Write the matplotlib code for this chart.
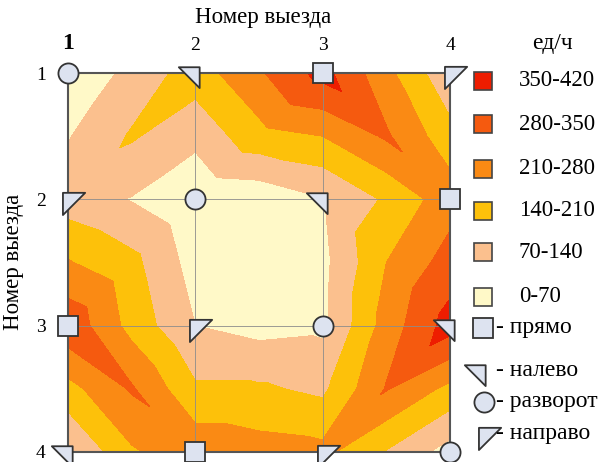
import numpy as np
import matplotlib
matplotlib.use("Agg")
import matplotlib.pyplot as plt
import matplotlib.tri as mtri
from matplotlib.path import Path
from matplotlib.patches import Rectangle
from matplotlib.lines import Line2D

plt.rcParams['font.family'] = ['Liberation Serif', 'DejaVu Serif']

# номера выездов и сетка интерполяции
exits = [1, 2, 3, 4]
grid_x = [1.0, 1.5, 2.0, 2.5, 3.0, 3.5, 4.0]
grid_y = [1.0, 1.5, 2.0, 2.5, 3.0, 3.5, 4.0]

# интенсивность, ед/ч (строки - grid_y, столбцы - grid_x)
flow = [
    [10, 90, 175, 270, 375, 230, 85],
    [65, 148, 90, 185, 210, 290, 165],
    [105, 66, 10, 20, 65, 150, 250],
    [215, 160, 40, 15, 50, 210, 310],
    [330, 185, 70, 45, 55, 240, 380],
    [185, 288, 150, 150, 125, 285, 190],
    [60, 200, 260, 240, 230, 135, 40],
]

levels = [0, 70, 140, 210, 280, 350, 420]
level_labels = ["0-70", "70-140", "140-210", "210-280", "280-350", "350-420"]
colors = ["#FFF9C8", "#FBC08E", "#FDC10A", "#FA8A14", "#F55A0F", "#EE1D00"]

# манёвры: строка - номер въезда (ось y), столбец - номер выезда (ось x)
manoeuvres = [
    ["разворот", "налево", "прямо", "направо"],
    ["направо", "разворот", "налево", "прямо"],
    ["прямо", "направо", "разворот", "налево"],
    ["налево", "прямо", "направо", "разворот"],
]
man_order = ["прямо", "налево", "разворот", "направо"]

W, H = 604, 462


def tri(v):
    return Path(v + [v[0]], closed=True)


mstyle = {
    "прямо": dict(marker="s", ms=15),
    "налево": dict(marker=tri([(0.2, 0.3), (-0.8, 0.3), (0.2, -0.7)]), ms=24),
    "разворот": dict(marker="o", ms=14.5),
    "направо": dict(marker=tri([(-0.25, 0.3), (0.75, 0.3), (-0.25, -0.7)]), ms=24),
}
mface = "#DDE3F0"
medge = "#333333"

# треугольная сетка: диагональ в каждой ячейке вдоль "гребня"
z = np.array(flow, dtype=float)
gx, gy = np.meshgrid(grid_x, grid_y)
n = len(grid_x)
triangles = []
for r in range(len(grid_y) - 1):
    for c in range(n - 1):
        a = r * n + c
        b = a + 1
        d = a + n
        e = d + 1
        if z[r, c] + z[r + 1, c + 1] >= z[r, c + 1] + z[r + 1, c]:
            triangles += [[a, b, e], [a, e, d]]
        else:
            triangles += [[a, b, d], [b, e, d]]
triang = mtri.Triangulation(gx.ravel(), gy.ravel(), triangles)

fig = plt.figure(figsize=(W / 100, H / 100), dpi=100)
ax = fig.add_axes([68 / W, 10 / H, 382 / W, 379 / H])

ax.tricontourf(triang, z.ravel(), levels=levels, colors=colors)
ax.set_xlim(1, 4)
ax.set_ylim(4, 1)

for v in [2, 3]:
    ax.axvline(v, color="#8c8c8c", lw=0.6, zorder=3)
    ax.axhline(v, color="#8c8c8c", lw=0.6, zorder=3)

for s in ax.spines.values():
    s.set_color("#555555")
    s.set_linewidth(1.5)

ax.xaxis.tick_top()
ax.set_xticks(exits)
ax.set_xticklabels([str(e) for e in exits])
ax.set_yticks(exits)
ax.set_yticklabels([str(e) for e in exits])
ax.tick_params(length=0, labelsize=14)
ax.tick_params(axis="x", pad=14)
ax.tick_params(axis="y", pad=16)
first = ax.get_xticklabels()[0]
first.set_fontsize(17)
first.set_fontweight("bold")

fig.text(263 / W, 1 - 17 / H, "Номер выезда", fontsize=16.5, ha="center", va="center")
fig.text(14 / W, 1 - 262 / H, "Номер выезда", fontsize=16.5, ha="center",
         va="center", rotation=90)

for r, row in enumerate(manoeuvres):
    for c, m in enumerate(row):
        ax.plot(exits[c], exits[r], linestyle="none", mfc=mface, mec=medge,
                mew=1.3, clip_on=False, zorder=6, **mstyle[m])

# легенда по интенсивности
fig.text(552 / W, 1 - 44 / H, "ед/ч", fontsize=17, ha="center", va="center")
leg_y = [297, 252, 211, 169, 124, 81]
for lab, col, yy in zip(level_labels, colors, leg_y):
    fig.add_artist(Rectangle((474 / W, 1 - (yy + 9) / H), 18 / W, 18 / H,
                             transform=fig.transFigure, facecolor=col,
                             edgecolor="#444444", lw=1.2))
    fig.text(519 / W, 1 - yy / H, lab, fontsize=16.5, ha="left", va="center")

# легенда по манёврам
man_pos = [(483, 328), (481, 371), (484, 402), (484, 434)]
for m, (xx, yy) in zip(man_order, man_pos):
    fig.add_artist(Line2D([xx / W], [1 - yy / H], transform=fig.transFigure,
                          linestyle="none", mfc=mface, mec=medge, mew=1.3,
                          **mstyle[m]))
    fig.text(496 / W, 1 - yy / H, "- " + m, fontsize=17, ha="left", va="center")

fig.savefig("out.png", dpi=100)
